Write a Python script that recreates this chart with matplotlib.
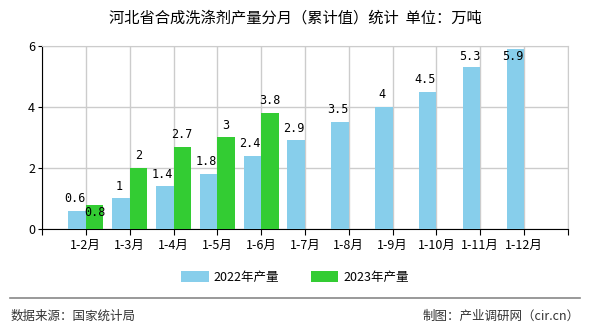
import matplotlib
matplotlib.use("Agg")
import matplotlib.pyplot as plt
import numpy as np

plt.rcParams['font.family'] = ['Noto Sans CJK SC', 'DejaVu Sans']

months = ["1-2月", "1-3月", "1-4月", "1-5月", "1-6月", "1-7月",
          "1-8月", "1-9月", "1-10月", "1-11月", "1-12月"]
prod_2022 = [0.6, 1, 1.4, 1.8, 2.4, 2.9, 3.5, 4, 4.5, 5.3, 5.9]
prod_2023 = [0.8, 2, 2.7, 3, 3.8]

c22 = "#87CEEB"
c23 = "#33CC33"

fig = plt.figure(figsize=(5.9, 3.3), dpi=100)
ax = fig.add_axes([0.0712, 0.306, 0.8915, 0.555])

x = np.arange(1, len(months) + 1)
w = 0.4
ax.bar(x[:len(prod_2022)] - w / 2, prod_2022, width=w, color=c22, label="2022年产量", zorder=3)
ax.bar(x[:len(prod_2023)] + w / 2, prod_2023, width=w, color=c23, label="2023年产量", zorder=3)

ymax = 6
for i, v in enumerate(prod_2022):
    ax.text(x[i] - w / 2 - 0.05, min(v + 0.4, ymax - 0.35), f"{v:g}", ha="center", va="center",
            fontsize=8.5, family="DejaVu Sans Mono", zorder=4)
for i, v in enumerate(prod_2023):
    yy = v + 0.4
    if abs(v - prod_2022[i]) < 0.3:
        yy = v - 0.25
    ax.text(x[i] + w / 2, yy, f"{v:g}", ha="center", va="center",
            fontsize=8.5, family="DejaVu Sans Mono", zorder=4)

ax.set_xlim(0, 12)
ax.set_ylim(0, ymax)
ax.set_xticks(np.arange(0, 13))
ax.set_xticklabels([""] + months + [""], fontsize=9)
ax.set_yticks([0, 2, 4, 6])
ax.tick_params(axis="y", labelsize=9, length=3, pad=2)
ax.tick_params(axis="x", length=4, pad=3)
ax.grid(True, color="#cccccc", linewidth=1, zorder=0)
ax.spines["right"].set_color("#cccccc")
ax.spines["top"].set_color("#cccccc")
ax.spines["left"].set_color("black")
ax.spines["bottom"].set_color("black")

fig.text(0.5, 0.945, "河北省合成洗涤剂产量分月（累计值）统计  单位：万吨", ha="center", va="center",
         fontsize=11)

fig.legend(loc="center", bbox_to_anchor=(0.5, 0.16), ncol=2, frameon=False, fontsize=9,
           handlelength=2.2, handleheight=0.9, columnspacing=2.5, handletextpad=0.4)

fig.add_artist(plt.Line2D([0.017, 0.983], [0.097, 0.097], color="#888888", linewidth=1.2))
fig.text(0.017, 0.042, "数据来源：国家统计局", ha="left", va="center", fontsize=9, color="#333333")
fig.text(0.983, 0.042, "制图：产业调研网（cir.cn）", ha="right", va="center", fontsize=9, color="#333333")

fig.savefig("out.png", dpi=100)
